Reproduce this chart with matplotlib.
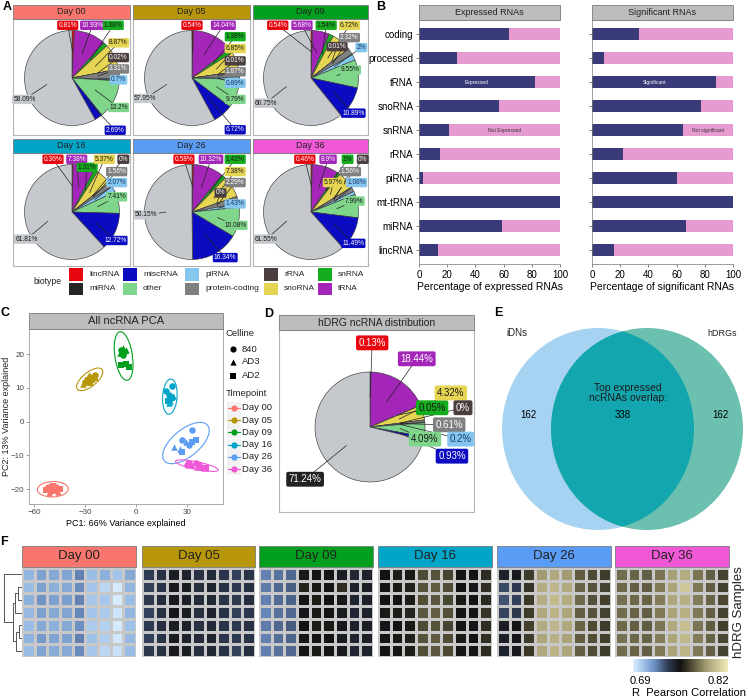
import numpy as np
import matplotlib
matplotlib.use("Agg")
import matplotlib.pyplot as plt
from matplotlib.patches import Rectangle, Ellipse
from matplotlib.colors import LinearSegmentedColormap, Normalize

plt.rcParams['font.family'] = ['Liberation Sans', 'DejaVu Sans']
plt.rcParams['axes.unicode_minus'] = True

W, H = 749, 698

# ---------------- data ----------------
slice_order = ['lincRNA', 'tRNA', 'snRNA', 'snoRNA', 'rRNA', 'protein-coding',
               'piRNA', 'other', 'miscRNA', 'miRNA']
legend_order = ['lincRNA', 'miRNA', 'miscRNA', 'other', 'piRNA',
                'protein-coding', 'rRNA', 'snoRNA', 'snRNA', 'tRNA']
biotype_colors = {
    'lincRNA': '#e8070e', 'miRNA': '#262626', 'miscRNA': '#0b0bc2',
    'other': '#7fd68b', 'piRNA': '#84c6ee', 'protein-coding': '#808080',
    'rRNA': '#4a3e3e', 'snoRNA': '#e6d552', 'snRNA': '#14ad1e', 'tRNA': '#a326b8',
}
label_text_colors = {
    'lincRNA': 'white', 'miRNA': '#1a1a1a', 'miscRNA': 'white', 'other': '#1a1a1a',
    'piRNA': '#1a3a6a', 'protein-coding': 'white', 'rRNA': 'white',
    'snoRNA': '#1a1a1a', 'snRNA': '#1a1a1a', 'tRNA': 'white',
}

days = ['Day 00', 'Day 05', 'Day 09', 'Day 16', 'Day 26', 'Day 36']
day_colors = ['#f8766d', '#b8960a', '#00a01e', '#00a5c8', '#5b9cf5', '#f058d8']

# percentages, in slice_order
pct_day00 = [0.81, 10.93, 1.38, 8.87, 0.02, 3.31, 0.7, 13.2, 2.69, 58.09]
pct_day05 = [0.54, 14.04, 1.38, 6.85, 0.01, 1.87, 0.89, 9.79, 6.72, 57.95]
pct_day09 = [0.54, 5.68, 1.54, 6.72, 0.01, 2.32, 2, 9.55, 10.89, 60.75]
pct_day16 = [0.36, 7.38, 1.31, 5.37, 0, 1.56, 2.07, 7.41, 12.72, 61.81]
pct_day26 = [0.58, 10.32, 1.42, 7.38, 0, 2.29, 1.43, 10.08, 16.34, 50.15]
pct_day36 = [0.46, 8.9, 1, 5.97, 0, 1.56, 1.08, 7.99, 11.49, 61.55]
pct_hdrg = [0.13, 18.44, 0.05, 4.32, 0, 0.61, 0.2, 4.09, 0.93, 71.24]

rna_types = ['coding', 'processed', 'tRNA', 'snoRNA', 'snRNA', 'rRNA',
             'piRNA', 'mt-tRNA', 'miRNA', 'lincRNA']
pct_expressed = [64, 27, 82, 57, 21, 15, 3, 100, 59, 13.5]
pct_significant = [33, 8.5, 88, 77, 64.5, 22, 60, 100, 67, 15.5]

# PCA samples (PC1, PC2, celline) per timepoint
pca_day00 = [(-52, -19.4, '840'), (-50, -20.5, '840'), (-47, -19.3, '840'),
             (-51, -21.0, 'AD3'), (-48, -20.2, 'AD3'), (-46, -20.8, 'AD3'),
             (-53, -20.2, 'AD2'), (-49, -19.0, 'AD2'), (-45, -19.9, 'AD2')]
pca_day05 = [(-30, 11.6, '840'), (-27, 13.3, '840'), (-24, 13.8, '840'),
             (-28, 13.8, 'AD3'), (-26, 12.5, 'AD3'), (-31, 11.0, 'AD3'),
             (-27, 11.5, 'AD2'), (-24.5, 12.8, 'AD2'), (-28.5, 12.2, 'AD2')]
pca_day09 = [(-9, 21.3, '840'), (-7, 20.5, '840'), (-8, 19.6, '840'),
             (-6, 21.3, 'AD3'), (-9.5, 20.2, 'AD3'), (-7.5, 21.8, 'AD3'),
             (-9, 16.6, 'AD2'), (-6, 17.0, 'AD2'), (-4.5, 16.3, 'AD2')]
pca_day16 = [(17.5, 9.0, '840'), (21, 10.5, '840'), (19.5, 8.0, '840'),
             (20, 6.0, 'AD3'), (21.5, 7.5, 'AD3'), (19, 5.5, 'AD3'),
             (21, 7.0, 'AD2'), (20, 6.8, 'AD2'), (18.5, 6.2, 'AD2')]
pca_day26 = [(33, -2.6, '840'), (27, -5.5, '840'), (31, -7.0, '840'),
             (22, -7.6, 'AD3'), (26, -8.0, 'AD3'), (29, -6.0, 'AD3'),
             (27, -9.0, 'AD2'), (33, -6.0, 'AD2'), (35, -5.5, 'AD2')]
pca_day36 = [(30, -12.8, '840'), (35, -12.3, '840'), (38, -13.3, '840'),
             (33, -12.9, 'AD3'), (36, -13.5, 'AD3'), (40, -13.6, 'AD3'),
             (31, -12.5, 'AD2'), (37, -12.8, 'AD2'), (41, -13.8, 'AD2')]
cellines = ['840', 'AD3', 'AD2']
celline_markers = {'840': 'o', 'AD3': '^', 'AD2': 's'}

# Pearson correlation, 7 hDRG samples x 9 iDN samples per timepoint
corr_day00 = [
    [0.708, 0.714, 0.712, 0.713, 0.722, 0.706, 0.710, 0.704, 0.712],
    [0.706, 0.714, 0.710, 0.712, 0.720, 0.704, 0.698, 0.692, 0.708],
    [0.710, 0.718, 0.714, 0.715, 0.722, 0.703, 0.703, 0.691, 0.706],
    [0.707, 0.714, 0.712, 0.713, 0.721, 0.704, 0.702, 0.694, 0.708],
    [0.706, 0.712, 0.710, 0.712, 0.719, 0.702, 0.700, 0.692, 0.705],
    [0.709, 0.716, 0.713, 0.714, 0.723, 0.705, 0.701, 0.693, 0.707],
    [0.706, 0.713, 0.711, 0.712, 0.720, 0.703, 0.698, 0.695, 0.706]]
corr_day05 = [
    [0.738, 0.742, 0.750, 0.748, 0.742, 0.745, 0.740, 0.737, 0.741],
    [0.737, 0.741, 0.752, 0.750, 0.743, 0.747, 0.741, 0.738, 0.742],
    [0.739, 0.744, 0.751, 0.749, 0.744, 0.746, 0.740, 0.739, 0.743],
    [0.736, 0.742, 0.753, 0.751, 0.743, 0.748, 0.742, 0.737, 0.740],
    [0.738, 0.743, 0.750, 0.749, 0.742, 0.745, 0.741, 0.739, 0.742],
    [0.737, 0.741, 0.751, 0.748, 0.744, 0.747, 0.740, 0.738, 0.741],
    [0.739, 0.742, 0.752, 0.750, 0.743, 0.746, 0.742, 0.737, 0.743]]
corr_day09 = [
    [0.722, 0.726, 0.728, 0.752, 0.756, 0.754, 0.750, 0.746, 0.748],
    [0.724, 0.728, 0.730, 0.760, 0.757, 0.756, 0.762, 0.748, 0.750],
    [0.723, 0.727, 0.729, 0.754, 0.758, 0.755, 0.752, 0.747, 0.749],
    [0.721, 0.726, 0.728, 0.753, 0.757, 0.756, 0.751, 0.746, 0.748],
    [0.724, 0.728, 0.731, 0.755, 0.758, 0.757, 0.752, 0.748, 0.750],
    [0.722, 0.727, 0.729, 0.753, 0.756, 0.755, 0.751, 0.747, 0.749],
    [0.723, 0.726, 0.728, 0.754, 0.757, 0.756, 0.752, 0.746, 0.748]]
corr_day16 = [
    [0.755, 0.758, 0.757, 0.770, 0.772, 0.768, 0.756, 0.754, 0.762],
    [0.756, 0.757, 0.759, 0.772, 0.774, 0.770, 0.755, 0.753, 0.763],
    [0.754, 0.756, 0.758, 0.771, 0.773, 0.769, 0.757, 0.755, 0.761],
    [0.757, 0.758, 0.760, 0.773, 0.775, 0.771, 0.756, 0.754, 0.764],
    [0.753, 0.755, 0.757, 0.770, 0.772, 0.768, 0.755, 0.753, 0.762],
    [0.756, 0.757, 0.759, 0.772, 0.774, 0.770, 0.757, 0.755, 0.763],
    [0.755, 0.756, 0.758, 0.771, 0.773, 0.769, 0.756, 0.754, 0.762]]
corr_day26 = [
    [0.748, 0.752, 0.766, 0.790, 0.795, 0.790, 0.774, 0.770, 0.766],
    [0.735, 0.738, 0.764, 0.796, 0.800, 0.795, 0.776, 0.772, 0.768],
    [0.733, 0.737, 0.765, 0.797, 0.801, 0.796, 0.777, 0.771, 0.767],
    [0.736, 0.739, 0.766, 0.795, 0.799, 0.794, 0.775, 0.772, 0.768],
    [0.750, 0.754, 0.767, 0.796, 0.800, 0.795, 0.776, 0.770, 0.766],
    [0.749, 0.753, 0.766, 0.794, 0.798, 0.793, 0.774, 0.771, 0.767],
    [0.748, 0.752, 0.765, 0.795, 0.799, 0.794, 0.775, 0.770, 0.766]]
corr_day36 = [
    [0.778, 0.776, 0.775, 0.780, 0.792, 0.796, 0.780, 0.775, 0.768],
    [0.777, 0.775, 0.774, 0.781, 0.793, 0.806, 0.781, 0.774, 0.767],
    [0.779, 0.777, 0.776, 0.782, 0.794, 0.797, 0.782, 0.776, 0.769],
    [0.778, 0.776, 0.775, 0.781, 0.793, 0.798, 0.781, 0.775, 0.768],
    [0.777, 0.775, 0.774, 0.780, 0.795, 0.803, 0.780, 0.774, 0.767],
    [0.779, 0.777, 0.776, 0.782, 0.794, 0.801, 0.782, 0.776, 0.769],
    [0.778, 0.776, 0.775, 0.781, 0.793, 0.799, 0.781, 0.775, 0.768]]
# dendrogram merges of hDRG samples: (left, right, height)
dendro_merges = [(1, 2, 0.2), (7, 3, 0.35), (4, 5, 0.15), (9, 6, 0.3),
                 (8, 10, 0.5), (0, 11, 1.0)]

venn_counts = [162, 338, 162]

# ---------------- layout helpers ----------------
fig = plt.figure(figsize=(W / 100, H / 100), dpi=100)


def px_axes(x0, y0, x1, y1):
    return fig.add_axes([x0 / W, 1 - y1 / H, (x1 - x0) / W, (y1 - y0) / H])


strips = []   # (x0, y0, x1, y1, color, text, fontsize)


def draw_pie(ax, vals, labpos, box, center, r, fs, big_bg, big_fg, pad):
    x0, y0, x1, y1 = box
    cx, cy = center
    fills = [biotype_colors[b] for b in slice_order]
    fills[-1] = '#c5c9cd'
    ax.pie(vals, colors=fills, startangle=90, counterclock=False, radius=1,
           wedgeprops=dict(edgecolor='#3c3c3c', linewidth=0.45))
    ax.set_aspect('auto')
    ax.set_xlim((x0 - cx) / r, (x1 - cx) / r)
    ax.set_ylim((cy - y1) / r, (cy - y0) / r)
    ax.set_frame_on(True)
    for s in ax.spines.values():
        s.set_color('#b5b5b5')
        s.set_linewidth(0.8)
    total = sum(vals)
    cum = 0
    for v, b, (lx, ly) in zip(vals, slice_order, labpos):
        mid = np.deg2rad(90 - 360 * (cum + v / 2) / total)
        cum += v
        px, py = 0.55 * np.cos(mid), 0.55 * np.sin(mid)
        ax.plot([px, lx], [py, ly], color='#222222', lw=0.5, zorder=3)
        bg = biotype_colors[b]
        fg = label_text_colors[b]
        if b == 'miRNA':
            bg, fg = big_bg, big_fg
        ax.text(lx, ly, f'{v:g}%', ha='center', va='center', fontsize=fs,
                color=fg, zorder=4,
                bbox=dict(boxstyle=f'round,pad={pad},rounding_size=0.2',
                          fc=bg, ec='none'))


# ---------------- panel A ----------------
a_vals = [pct_day00, pct_day05, pct_day09, pct_day16, pct_day26, pct_day36]
a_labels = [
    [(-0.09, 1.11), (0.43, 1.11), (0.87, 1.11), (0.98, 0.74), (0.98, 0.43),
     (0.98, 0.19), (0.98, -0.04), (0.98, -0.62), (0.91, -1.1), (-1.0, -0.45)],
    [(0.0, 1.11), (0.66, 1.11), (0.91, 0.87), (0.91, 0.62), (0.91, 0.36),
     (0.91, 0.13), (0.91, -0.11), (0.91, -0.45), (0.91, -1.09), (-0.98, -0.43)],
    [(-0.70, 1.11), (-0.19, 1.11), (0.32, 1.11), (0.81, 1.11), (0.55, 0.66),
     (0.81, 0.85), (1.06, 0.64), (0.83, 0.17), (0.89, -0.74), (-0.96, -0.53)],
    [(-0.40, 1.11), (0.10, 1.11), (0.32, 0.94), (0.68, 1.11), (1.08, 1.11),
     (0.94, 0.85), (0.94, 0.62), (0.94, 0.32), (0.91, -0.6), (-0.96, -0.57)],
    [(-0.17, 1.11), (0.40, 1.11), (0.91, 1.11), (0.91, 0.85), (0.60, 0.40),
     (0.91, 0.62), (0.91, 0.17), (0.91, -0.28), (0.70, -0.96), (-0.96, -0.06)],
    [(-0.13, 1.11), (0.36, 1.11), (0.77, 1.11), (0.47, 0.62), (1.09, 1.11),
     (0.83, 0.85), (0.96, 0.62), (0.91, 0.23), (0.89, -0.66), (-0.94, -0.57)],
]
a_boxes = [(13, 19, 130, 135), (133, 19, 250, 135), (253, 19, 368, 135),
           (13, 153, 130, 266), (133, 153, 250, 266), (253, 153, 368, 266)]
a_centers = [(72, 78), (192, 78), (311, 78), (72, 212), (192, 212), (311, 212)]

for i in range(6):
    box = a_boxes[i]
    ax = px_axes(*box)
    draw_pie(ax, a_vals[i], a_labels[i], box, a_centers[i], 47.5, 4.8,
             '#c5c9cd', '#1a1a1a', 0.18)
    strips.append((box[0], box[1] - 14, box[2], box[1], day_colors[i], days[i], 6.5))

# ---------------- panel B ----------------
NAVY, PINK = '#393a78', '#e59bd0'
ypos = np.arange(len(rna_types))[::-1]
b_specs = [(419, 560, pct_expressed, 'Expressed RNAs', 'Percentage of expressed RNAs',
            'Expressed', 'Not Expressed'),
           (592, 733, pct_significant, 'Significant RNAs', 'Percentage of significant RNAs',
            'Significant', 'Not significant')]
for k, (x0, x1, vals, title, xlabel, lab_in, lab_out) in enumerate(b_specs):
    ax = px_axes(x0, 20, x1, 264)
    vals = np.array(vals, dtype=float)
    ax.barh(ypos, vals, height=0.5, color=NAVY)
    ax.barh(ypos, 100 - vals, left=vals, height=0.5, color=PINK)
    ax.set_xlim(0, 100)
    ax.set_ylim(-0.6, len(rna_types) - 0.4)
    ax.set_xticks([0, 20, 40, 60, 80, 100])
    ax.set_yticks(ypos)
    ax.set_yticklabels(rna_types if k == 0 else [])
    ax.tick_params(labelsize=7, length=2, width=0.5, color='#555555', pad=2)
    for s in ['top', 'right']:
        ax.spines[s].set_visible(False)
    for s in ['left', 'bottom']:
        ax.spines[s].set_color('#777777')
        ax.spines[s].set_linewidth(0.5)
    ax.set_xlabel(xlabel, fontsize=7.5, labelpad=2)
    i_t = rna_types.index('tRNA')
    ax.text(vals[i_t] / 2, ypos[i_t], lab_in, color='white', fontsize=3.6,
            ha='center', va='center')
    i_s = rna_types.index('snRNA')
    ax.text((vals[i_s] + 100) / 2, ypos[i_s], lab_out, color='#333333',
            fontsize=3.6, ha='center', va='center')
    strips.append((x0, 5, x1, 20, '#bdbdbd', title, 6.5))

# ---------------- panel C ----------------
ax = px_axes(29, 329, 223, 504)
pca_sets = [pca_day00, pca_day05, pca_day09, pca_day16, pca_day26, pca_day36]
for pts, col in zip(pca_sets, day_colors):
    arr = np.array([(p[0], p[1]) for p in pts])
    for cl in cellines:
        sel = [p for p in pts if p[2] == cl]
        ax.scatter([p[0] for p in sel], [p[1] for p in sel], s=22, c=col,
                   marker=celline_markers[cl], linewidths=0, zorder=3)
    mean = arr.mean(axis=0)
    cov = np.cov(arr.T)
    evals, evecs = np.linalg.eigh(cov)
    ang = np.degrees(np.arctan2(evecs[1, 1], evecs[0, 1]))
    k = 3.3
    ax.add_patch(Ellipse(mean, 2 * k * np.sqrt(evals[1]), 2 * k * np.sqrt(evals[0]),
                         angle=ang, fill=False, ec=col, lw=0.8, zorder=2))
ax.set_xlim(-63, 51)
ax.set_ylim(-24.4, 27.4)
ax.set_xticks([-60, -30, 0, 30])
ax.set_yticks([-20, -10, 0, 10, 20])
ax.tick_params(labelsize=5.8, length=2, width=0.5, color='#777777', pad=1.5,
               labelcolor='#444444')
for s in ax.spines.values():
    s.set_color('#aaaaaa')
    s.set_linewidth(0.7)
ax.set_xlabel('PC1: 66% Variance explained', fontsize=6.5, labelpad=2)
strips.append((29, 313, 223, 329, '#bdbdbd', 'All ncRNA PCA', 8))

# ---------------- panel D ----------------
d_box = (279, 330, 474, 512)
ax = px_axes(*d_box)
d_labels = [(0.04, 1.53), (0.85, 1.24), (1.13, 0.35), (1.47, 0.62), (1.69, 0.35),
            (1.44, 0.04), (1.65, -0.22), (1.0, -0.22), (1.49, -0.53), (-1.18, -0.95)]
draw_pie(ax, pct_hdrg, d_labels, d_box, (370, 427), 55, 7, '#222222', 'white', 0.25)
strips.append((279, 315, 474, 330, '#bdbdbd', 'hDRG ncRNA distribution', 7.5))

# ---------------- panel E ----------------
ax = px_axes(497, 318, 749, 540)
ax.set_xlim(-1.26, 1.26)
ax.set_ylim(-1.11, 1.11)
ax.axis('off')
left_e = Ellipse((-0.25, 0), 1.92, 2.02, fc='#a6d3f1', ec='none')
right_e = Ellipse((0.24, 0), 1.92, 2.02, fc='#6cc0b0', ec='none')
ax.add_patch(left_e)
ax.add_patch(right_e)
inter = Ellipse((-0.25, 0), 1.92, 2.02, fc='#13a6ae', ec='none')
ax.add_patch(inter)
inter.set_clip_path(right_e)
ax.text(-1.06, 0.96, 'iDNs', fontsize=7, ha='center', va='center', color='#222222')
ax.text(0.99, 0.96, 'hDRGs', fontsize=6.5, ha='center', va='center', color='#222222')
ax.text(-0.95, 0.14, str(venn_counts[0]), fontsize=7, ha='center', va='center')
ax.text(0.0, 0.14, str(venn_counts[1]), fontsize=7, ha='center', va='center')
ax.text(0.97, 0.14, str(venn_counts[2]), fontsize=7, ha='center', va='center')
ax.text(0.05, 0.36, 'Top expressed\nncRNAs overlap:', fontsize=7.5, ha='center',
        va='center', linespacing=0.95, color='#1a1a1a')

# ---------------- panel F ----------------
cmap = LinearSegmentedColormap.from_list('corr', [
    (0.0, '#dcefff'), (0.115, '#9dc0e8'), (0.23, '#6a8cc0'), (0.369, '#2e3a52'),
    (0.5, '#121212'), (0.615, '#4e4a34'), (0.769, '#a39c72'), (1.0, '#f2eab8')])
norm = Normalize(0.69, 0.82)
f_x = [(22, 136), (142, 255), (259, 373), (378, 492), (497, 611), (615, 729)]
f_corr = [corr_day00, corr_day05, corr_day09, corr_day16, corr_day26, corr_day36]
for (x0, x1), m, col, d in zip(f_x, f_corr, day_colors, days):
    ax = px_axes(x0, 568, x1, 657)
    m = np.array(m)
    ax.pcolormesh(m, cmap=cmap, norm=norm, edgecolors='#c8c8c8', linewidth=0.8)
    ax.set_xlim(0, m.shape[1])
    ax.set_ylim(m.shape[0], 0)
    ax.axis('off')
    strips.append((x0, 546, x1, 567, col, d, 9.5))

# dendrogram
ax = px_axes(3, 568, 22, 657)
n_leaf = 7
node_y = {i: i + 0.5 for i in range(n_leaf)}
node_h = {i: 0.0 for i in range(n_leaf)}
for j, (a, b, h) in enumerate(dendro_merges):
    nid = n_leaf + j
    ax.plot([node_h[a], h, h, node_h[b]], [node_y[a], node_y[a], node_y[b], node_y[b]],
            color='#555555', lw=0.7)
    node_y[nid] = (node_y[a] + node_y[b]) / 2
    node_h[nid] = h
ax.set_xlim(1.05, -0.02)
ax.set_ylim(n_leaf, 0)
ax.axis('off')

# colourbar
cax = px_axes(633, 659, 727, 672)
grad = np.linspace(0.69, 0.82, 256)[None, :]
cax.imshow(grad, cmap=cmap, norm=norm, aspect='auto', extent=(0.69, 0.82, 0, 1))
cax.axis('off')

# ---------------- overlay: strips, legends, letters ----------------
ov = fig.add_axes([0, 0, 1, 1], zorder=10)
ov.set_xlim(0, W)
ov.set_ylim(H, 0)
ov.axis('off')
ov.patch.set_alpha(0)

for x0, y0, x1, y1, col, txt, fs in strips:
    ov.add_patch(Rectangle((x0, y0), x1 - x0, y1 - y0, fc=col, ec='#7a7a7a', lw=0.6))
    ov.text((x0 + x1) / 2, (y0 + y1) / 2, txt, ha='center', va='center',
            fontsize=fs, color='#222222')

# panel A legend
ov.text(47, 282, 'biotype', fontsize=6.2, ha='center', va='center', color='#222222')
key_x = [69, 123, 185, 264, 318]
for idx, name in enumerate(legend_order):
    col_i, row_i = idx // 2, idx % 2
    kx = key_x[col_i]
    ky = 268 + row_i * 14.5
    ov.add_patch(Rectangle((kx, ky), 14, 12.5, fc=biotype_colors[name], ec='none'))
    ov.text(kx + 20, ky + 6.5, name, fontsize=6, va='center', color='#222222')

# panel C axis label and legend
ov.text(6.5, 416, 'PC2: 13% Variance explained', rotation=90, fontsize=6.5,
        ha='center', va='center', color='#222222')
ov.text(226, 334, 'Celline', fontsize=6.8, va='center', color='#222222')
for j, cl in enumerate(cellines):
    yy = [349, 362, 376][j]
    ov.scatter([233], [yy], marker=celline_markers[cl], s=20, c='black', linewidths=0)
    ov.text(242, yy, cl, fontsize=6.8, va='center', color='#222222')
ov.text(226, 394, 'Timepoint', fontsize=6.8, va='center', color='#222222')
for j, (d, col) in enumerate(zip(days, day_colors)):
    yy = 408 + j * 12.2
    ov.add_patch(Rectangle((227, yy - 6), 14, 12, fc='#f2f2f2', ec='none'))
    ov.plot([228, 240], [yy, yy], color=col, lw=0.8)
    ov.scatter([234], [yy], s=20, c=col, linewidths=0)
    ov.text(242, yy, d, fontsize=6.8, va='center', color='#222222')

# panel F annotations
ov.text(739, 612, 'hDRG Samples', rotation=90, fontsize=9.5, ha='center',
        va='center', color='#222222')
ov.text(640, 681, '0.69', fontsize=8, ha='center', va='center')
ov.text(718, 681, '0.82', fontsize=8, ha='center', va='center')
ov.text(689, 693.5, 'R  Pearson Correlation', fontsize=8, ha='center', va='center')

# panel letters
for letter, x, y in [('A', 7, 7), ('B', 381, 7), ('C', 5, 313), ('D', 269, 314),
                     ('E', 498, 313), ('F', 4, 542)]:
    ov.text(x, y, letter, fontsize=9, fontweight='bold', ha='center', va='center')

fig.savefig('out.png', dpi=100)
